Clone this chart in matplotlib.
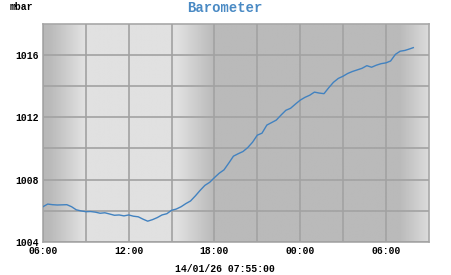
import numpy as np
import matplotlib
matplotlib.use("Agg")
import matplotlib.pyplot as plt

# horas desde las 06:00 del primer dia, lecturas cada 20 min
horas = [0.00, 0.33, 0.67, 1.00, 1.33, 1.67, 2.00, 2.33, 2.67, 3.00,
         3.33, 3.67, 4.00, 4.33, 4.67, 5.00, 5.33, 5.67, 6.00, 6.33,
         6.67, 7.00, 7.33, 7.67, 8.00, 8.33, 8.67, 9.00, 9.33, 9.67,
         10.00, 10.33, 10.67, 11.00, 11.33, 11.67, 12.00, 12.33, 12.67, 13.00,
         13.33, 13.67, 14.00, 14.33, 14.67, 15.00, 15.33, 15.67, 16.00, 16.33,
         16.67, 17.00, 17.33, 17.67, 18.00, 18.33, 18.67, 19.00, 19.33, 19.67,
         20.00, 20.33, 20.67, 21.00, 21.33, 21.67, 22.00, 22.33, 22.67, 23.00,
         23.33, 23.67, 24.00, 24.33, 24.67, 25.00, 25.33, 25.67, 25.92]
presion = [1006.25, 1006.42, 1006.38, 1006.36, 1006.37, 1006.38, 1006.25, 1006.05, 1005.98, 1005.93,
           1005.94, 1005.90, 1005.83, 1005.86, 1005.78, 1005.70, 1005.72, 1005.66, 1005.72, 1005.64,
           1005.60, 1005.45, 1005.32, 1005.42, 1005.55, 1005.72, 1005.80, 1006.02, 1006.10, 1006.25,
           1006.45, 1006.62, 1006.95, 1007.30, 1007.62, 1007.82, 1008.12, 1008.40, 1008.62, 1009.05,
           1009.50, 1009.66, 1009.80, 1010.05, 1010.40, 1010.85, 1010.98, 1011.50, 1011.66, 1011.82,
           1012.15, 1012.45, 1012.58, 1012.85, 1013.10, 1013.28, 1013.42, 1013.62, 1013.56, 1013.52,
           1013.90, 1014.25, 1014.50, 1014.64, 1014.82, 1014.95, 1015.05, 1015.15, 1015.32, 1015.22,
           1015.35, 1015.45, 1015.50, 1015.62, 1016.05, 1016.25, 1016.30, 1016.40, 1016.48]

etiquetas_x = ["06:00", "", "12:00", "", "18:00", "", "00:00", "", "06:00", ""]
etiquetas_y = ["1004", "", "1008", "", "1012", "", "1016", ""]

# sombreado dia/noche (claridad de fondo)
luz_t = [0.0, 0.5, 2.8, 9.4, 11.9, 25.0, 27.0]
luz_v = [0.72, 0.73, 0.88, 0.88, 0.73, 0.73, 0.86]

FUENTE = "Liberation Mono"

fig = plt.figure(figsize=(4.51, 2.75), dpi=100)
ax = fig.add_axes([0.0953, 0.1211, 0.8553, 0.7916])

tt = np.linspace(0, 27, 540)
fondo = np.interp(tt, luz_t, luz_v)[np.newaxis, :]
ax.imshow(fondo, cmap="gray", vmin=0, vmax=1, aspect="auto",
          extent=[0, 27, 1004, 1018], zorder=0, interpolation="bilinear")

ax.plot(horas, presion, color="#4282c0", lw=1.0, zorder=3)

ax.set_xlim(0, 27)
ax.set_ylim(1004, 1018)
ax.set_xticks(np.arange(0, 27, 3))
ax.set_xticklabels(etiquetas_x[:9])
ax.set_yticks(np.arange(1004, 1018, 2))
ax.set_yticklabels(etiquetas_y[:7])
ax.grid(True, color="#a2a2a2", lw=1.2, zorder=1)
ax.set_axisbelow(False)
ax.tick_params(length=0, pad=3)
for lbl in ax.get_xticklabels() + ax.get_yticklabels():
    lbl.set_fontfamily(FUENTE)
    lbl.set_fontweight("bold")
    lbl.set_fontsize(7)
for s in ax.spines.values():
    s.set_color("#a8a8a8")
    s.set_linewidth(1.2)

fig.text(10 / 451, 1 - 7 / 275, "mbar", family=FUENTE, weight="bold",
         fontsize=7, va="center", ha="left")
fig.text(225 / 451, 1 - 8 / 275, "Barometer", family=FUENTE, weight="bold",
         fontsize=10, color="#4a8ac4", va="center", ha="center")
fig.text(225 / 451, 1 - 269 / 275, "14/01/26 07:55:00", family=FUENTE,
         weight="bold", fontsize=7, va="center", ha="center")

fig.savefig("out.png", dpi=100)
